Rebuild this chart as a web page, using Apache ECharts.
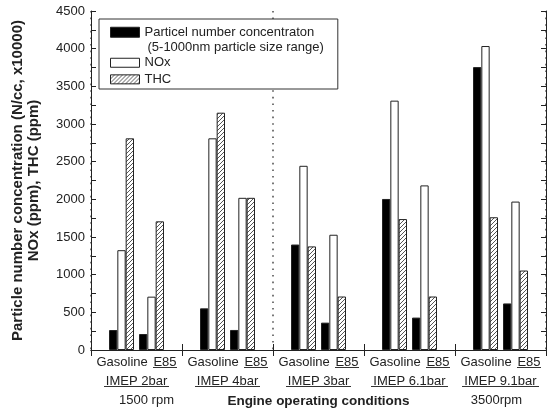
<!DOCTYPE html>
<html>
<head>
<meta charset="utf-8">
<script src="https://cdn.jsdelivr.net/npm/echarts@6/dist/echarts.min.js"></script>
<style>
html,body{margin:0;padding:0;background:#fff;}
#chart{width:557px;height:410px;}
</style>
</head>
<body>
<div id="chart"></div>
<script>
// ---- data ----
const categories = ['IMEP 2bar', 'IMEP 4bar', 'IMEP 3bar', 'IMEP 6.1bar', 'IMEP 9.1bar'];
const fuelLabels = ['Gasoline', 'E85'];
const rpmLabels = ['1500 rpm', '', '', '', '3500rpm'];
const pnName = 'Particel number concentraton';
const pnSubtitle = '(5-1000nm particle size range)';
const noxName = 'NOx';
const thcName = 'THC';
const pnGasoline = [265, 553, 1400, 2005, 3755];
const noxGasoline = [1325, 2810, 2445, 3310, 4035];
const thcGasoline = [2810, 3150, 1375, 1738, 1762];
const pnE85 = [212, 266, 363, 430, 618];
const noxE85 = [708, 2020, 1530, 2185, 1970];
const thcE85 = [1708, 2020, 710, 710, 1055];
const yTitle = 'Particle number concentration (N/cc, x10000)\nNOx (ppm), THC (ppm)';
const xTitle = 'Engine operating conditions';

// ---- patterns ----
function makeHatch() {
  const c = document.createElement('canvas');
  c.width = 4; c.height = 4;
  const g = c.getContext('2d');
  g.fillStyle = '#fff'; g.fillRect(0, 0, 4, 4);
  g.strokeStyle = '#555'; g.lineWidth = 1;
  g.beginPath();
  g.moveTo(-1, 5); g.lineTo(5, -1);
  g.moveTo(-1, 1); g.lineTo(1, -1);
  g.moveTo(3, 5); g.lineTo(5, 3);
  g.stroke();
  return c;
}
function makeUnderline() {
  const c = document.createElement('canvas');
  c.width = 4; c.height = 12;
  const g = c.getContext('2d');
  g.fillStyle = '#333'; g.fillRect(0, 11, 4, 1);
  return c;
}
const hatch = { image: makeHatch(), repeat: 'repeat' };
const underline = { image: makeUnderline() };

const FONT = 'Liberation Sans, Arial, sans-serif';
const TXT = '#222';

function bar(name, data, fill) {
  return {
    type: 'bar', name: name, data: data,
    barWidth: 8.33, barGap: '0%',
    itemStyle: { color: fill, borderColor: '#222', borderWidth: 1 },
    emphasis: { disabled: true }
  };
}

const chart = echarts.init(document.getElementById('chart'), null, { renderer: 'canvas' });
chart.setOption({
  animation: false,
  backgroundColor: '#fff',
  textStyle: { fontFamily: FONT, color: TXT },
  grid: { left: 91, right: 11, top: 11, bottom: 60, containLabel: false, outerBoundsMode: 'none' },
  legend: [
    {
      data: [{ name: pnName, icon: 'path://M0,2.75H29V12.75H0Z M0,0 M0,31' }],
      left: 99, top: 19, orient: 'vertical',
      itemWidth: 29, itemHeight: 31,
      padding: [5, 14, 33, 11],
      backgroundColor: '#fff', borderColor: '#333', borderWidth: 1,
      itemStyle: { borderColor: '#222', borderWidth: 1 },
      selectedMode: false, z: 4,
      formatter: function (n) { return '{a|' + n + '}\n{b|' + pnSubtitle + '}'; },
      textStyle: {
        fontFamily: FONT, fontSize: 13, color: TXT, lineHeight: 15.5,
        rich: {
          a: { fontFamily: FONT, fontSize: 13, color: TXT, lineHeight: 15.5 },
          b: { fontFamily: FONT, fontSize: 13, color: TXT, lineHeight: 15.5, padding: [0, 0, 0, 3] }
        }
      }
    },
    {
      data: [{ name: noxName, icon: 'rect' }, { name: thcName, icon: 'rect' }],
      left: 110, top: 55, orient: 'vertical',
      itemWidth: 29, itemHeight: 9, itemGap: 1.1,
      padding: 0,
      itemStyle: { borderColor: '#222', borderWidth: 1 },
      selectedMode: false, z: 5,
      textStyle: { fontFamily: FONT, fontSize: 13, color: TXT, lineHeight: 15.5 }
    }
  ],
  xAxis: [
    {
      type: 'category', data: categories, position: 'bottom', boundaryGap: true,
      axisLine: { show: true, lineStyle: { color: '#222', width: 1 } },
      axisTick: { show: true, inside: true, length: 6, lineStyle: { color: '#222' } },
      splitLine: {
        show: true,
        interval: function (i) { return i === 0 || i === 2; },
        lineStyle: { color: '#555', width: 1.6, type: [1.6, 5] }
      },
      axisLabel: {
        interval: 0, margin: 2.5, color: TXT, fontFamily: FONT, fontSize: 13, lineHeight: 19,
        formatter: function (value, idx) {
          let s = '{g|' + fuelLabels[0] + '} {e|' + fuelLabels[1] + '}\n{i|' + value + '}';
          if (rpmLabels[idx]) s += '\n{r' + idx + '|' + rpmLabels[idx] + '}';
          return s;
        },
        rich: {
          g: { fontFamily: FONT, fontSize: 13, color: TXT, lineHeight: 19, padding: [0, 2, 0, 0] },
          e: { fontFamily: FONT, fontSize: 13, color: TXT, lineHeight: 19, height: 12, backgroundColor: underline },
          i: { fontFamily: FONT, fontSize: 13, color: TXT, lineHeight: 19, height: 12, padding: [0, 2, 0, 2], backgroundColor: underline },
          r0: { fontFamily: FONT, fontSize: 13, color: TXT, lineHeight: 19, padding: [0, 0, 0, 20] },
          r4: { fontFamily: FONT, fontSize: 13, color: TXT, lineHeight: 19, padding: [0, 8, 0, 0] }
        }
      },
      name: xTitle, nameLocation: 'middle', nameGap: 43.5, nameMoveOverlap: false,
      nameTextStyle: { fontFamily: FONT, fontSize: 13.5, fontWeight: 'bold', color: TXT, lineHeight: 15 }
    },
    {
      type: 'category', data: categories, position: 'top', boundaryGap: true,
      axisLine: { show: true, lineStyle: { color: '#222', width: 1 } },
      axisTick: { show: true, inside: true, length: 6, lineStyle: { color: '#222' } },
      axisLabel: { show: false },
      splitLine: { show: false }
    }
  ],
  yAxis: [
    {
      type: 'value', min: 0, max: 4500, interval: 500, position: 'left',
      axisLine: { show: true, lineStyle: { color: '#222', width: 1 } },
      axisTick: { show: true, inside: true, length: 5, lineStyle: { color: '#222' } },
      minorTick: { show: true, splitNumber: 2, length: 5, lineStyle: { color: '#222' } },
      splitLine: { show: false },
      axisLabel: { margin: 6, color: TXT, fontFamily: FONT, fontSize: 13, formatter: function (v) { return String(v); } },
      name: yTitle, nameLocation: 'middle', nameGap: 49, nameMoveOverlap: false,
      nameTextStyle: { fontFamily: FONT, fontSize: 15, fontWeight: 'bold', color: TXT, lineHeight: 16 }
    },
    {
      type: 'value', min: 0, max: 4500, interval: 500, position: 'right',
      axisLine: { show: true, lineStyle: { color: '#222', width: 1 } },
      axisTick: { show: true, inside: true, length: 5, lineStyle: { color: '#222' } },
      minorTick: { show: true, splitNumber: 2, length: 5, lineStyle: { color: '#222' } },
      splitLine: { show: false },
      axisLabel: { show: false }
    }
  ],
  series: [
    bar(pnName, pnGasoline, '#000'),
    bar(noxName, noxGasoline, '#fff'),
    bar(thcName, thcGasoline, hatch),
    { type: 'bar', name: 'spacer', data: [], barWidth: 5, barGap: '0%', silent: true },
    bar(pnName, pnE85, '#000'),
    bar(noxName, noxE85, '#fff'),
    bar(thcName, thcE85, hatch)
  ]
});
</script>
</body>
</html>
